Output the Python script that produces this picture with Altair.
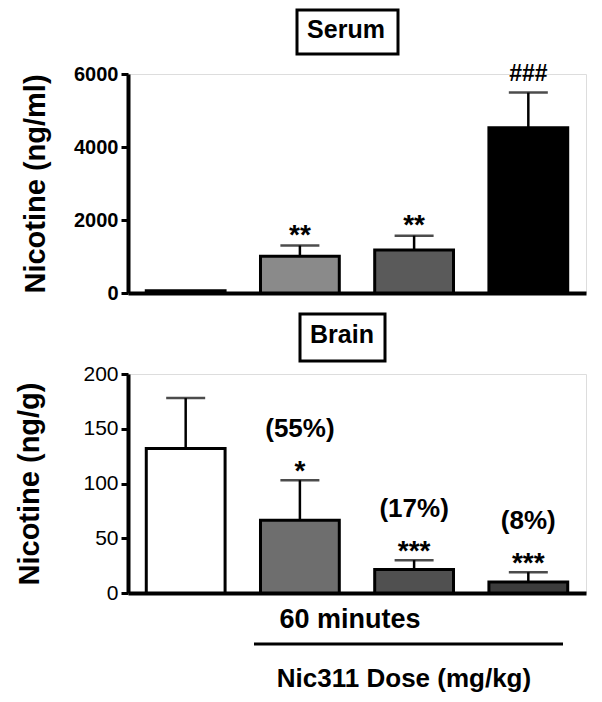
import altair as alt
import pandas as pd

# ---- data ----
groups = ["Control", "Nic311 dose 1", "Nic311 dose 2", "Nic311 dose 3"]

serum_mean = [60, 1010, 1180, 4530]
serum_err = [0, 290, 390, 960]
serum_sig = ["", "**", "**", "###"]

brain_mean = [132, 66.5, 21.5, 10]
brain_err = [46, 36.5, 8.5, 9]
brain_sig = ["", "*", "***", "***"]
brain_pct = ["", "(55%)", "(17%)", "(8%)"]

serum = pd.DataFrame({"group": groups, "mean": serum_mean, "err": serum_err, "sig": serum_sig})
serum["upper"] = serum["mean"] + serum["err"]
brain = pd.DataFrame({"group": groups, "mean": brain_mean, "err": brain_err,
                      "sig": brain_sig, "pct": brain_pct})
brain["upper"] = brain["mean"] + brain["err"]

FONT = "Liberation Sans"
W, H = 458, 219


def base_layers(df, ymax, major, minor, ytitle, colors, label_weight, label_size, title_pad):
    x = alt.X("group:N", sort=groups,
              scale=alt.Scale(paddingInner=0.31, paddingOuter=0.16),
              axis=alt.Axis(labels=False, ticks=False, title=None,
                            domainWidth=4, domainColor="black"))
    y_axis = alt.Axis(
        values=list(range(0, ymax + 1, minor)),
        format="d",
        labelExpr=f"datum.value % {major} === 0 ? datum.label : ''",
        labelOverlap=False,
        labelFont=FONT, labelFontSize=label_size, labelFontWeight=label_weight,
        labelColor="black", labelPadding=3,
        tickSize={"condition": {"test": f"datum.value % {major} === 0", "value": 7}, "value": 4},
        tickWidth=3, tickColor="black",
        domainWidth=4, domainColor="black",
        grid=False,
        title=ytitle, titleFont=FONT, titleFontSize=29, titleFontWeight="bold",
        titleColor="black", titlePadding=title_pad,
    )
    y = alt.Y("mean:Q", scale=alt.Scale(domain=[0, ymax], nice=False), axis=y_axis)

    base = alt.Chart(df)
    bars = base.mark_bar(stroke="black", strokeWidth=3).encode(
        x=x, y=y,
        color=alt.Color("group:N", scale=alt.Scale(domain=groups, range=colors), legend=None),
    )
    stem = base.transform_filter("datum.err > 0").mark_rule(color="black", strokeWidth=2.5).encode(
        x=alt.X("group:N", sort=groups), y="mean:Q", y2="upper:Q")
    cap = base.transform_filter("datum.err > 0").mark_tick(color="black", thickness=2.5, size=39).encode(
        x=alt.X("group:N", sort=groups), y="upper:Q")
    return base, [bars, stem, cap]


def title_box(text, x0, x1, y0, y1, tx, ty):
    d = alt.Chart(pd.DataFrame({"t": [text]}))
    rect = d.mark_rect(fill="white", stroke="black", strokeWidth=3).encode(
        x=alt.value(x0), x2=alt.value(x1), y=alt.value(y0), y2=alt.value(y1))
    txt = d.mark_text(font=FONT, fontSize=25, fontWeight="bold", color="black",
                      baseline="alphabetic", align="center").encode(
        x=alt.value(tx), y=alt.value(ty), text="t:N")
    return [rect, txt]


# ---- Serum panel ----
s_base, s_layers = base_layers(serum, 6000, 2000, 500, "Nicotine (ng/ml)",
                               ["white", "#8a8a8a", "#5a5a5a", "black"], "bold", 20, 23)
s_ast = s_base.transform_filter("datum.sig == '**'").mark_text(
    font=FONT, fontSize=28, fontWeight="bold", color="black", baseline="alphabetic", dy=-2).encode(
    x=alt.X("group:N", sort=groups), y="upper:Q", text="sig:N")
s_hash = s_base.transform_filter("datum.sig == '###'").mark_text(
    font=FONT, fontSize=23, fontWeight="bold", color="black", baseline="alphabetic", dy=-12).encode(
    x=alt.X("group:N", sort=groups), y="upper:Q", text="sig:N")
serum_chart = alt.layer(*s_layers, s_ast, s_hash,
                        *title_box("Serum", 169, 270, -64, -20, 218, -36)).properties(width=W, height=H)

# ---- Brain panel ----
b_base, b_layers = base_layers(brain, 200, 50, 25, "Nicotine (ng/g)",
                               ["white", "#6e6e6e", "#505050", "#3c3c3c"], "normal", 21, 38)
b_ast = b_base.transform_filter("datum.sig != ''").mark_text(
    font=FONT, fontSize=28, fontWeight="bold", color="black", baseline="alphabetic", dy=0).encode(
    x=alt.X("group:N", sort=groups), y="upper:Q", text="sig:N")
b_pct = b_base.transform_filter("datum.pct != ''").mark_text(
    font=FONT, fontSize=26, fontWeight="bold", color="black", baseline="alphabetic", dy=-43).encode(
    x=alt.X("group:N", sort=groups), y="upper:Q", text="pct:N")

notes = alt.Chart(pd.DataFrame({"a": ["60 minutes"], "b": ["Nic311 Dose (mg/kg)"]}))
t60 = notes.mark_text(font=FONT, fontSize=27, fontWeight="bold", color="black",
                      baseline="alphabetic", align="center").encode(
    x=alt.value(222), y=alt.value(254), text="a:N")
line = notes.mark_rule(color="black", strokeWidth=3).encode(
    x=alt.value(126), x2=alt.value(435), y=alt.value(270))
tdose = notes.mark_text(font=FONT, fontSize=26, fontWeight="bold", color="black",
                        baseline="alphabetic", align="center").encode(
    x=alt.value(276), y=alt.value(313), text="b:N")

brain_chart = alt.layer(*b_layers, b_ast, b_pct,
                        *title_box("Brain", 172, 257, -60, -13, 214, -31),
                        t60, line, tdose).properties(width=W, height=H)

chart = alt.vconcat(serum_chart, brain_chart, spacing=8).resolve_scale(
    color="independent"
).properties(
    padding={"left": 7, "top": 0, "right": 5, "bottom": 0}
).configure_view(stroke=None).configure(font=FONT, background="white")

chart.save("out.html", embed_options={"renderer": "svg", "actions": False})
